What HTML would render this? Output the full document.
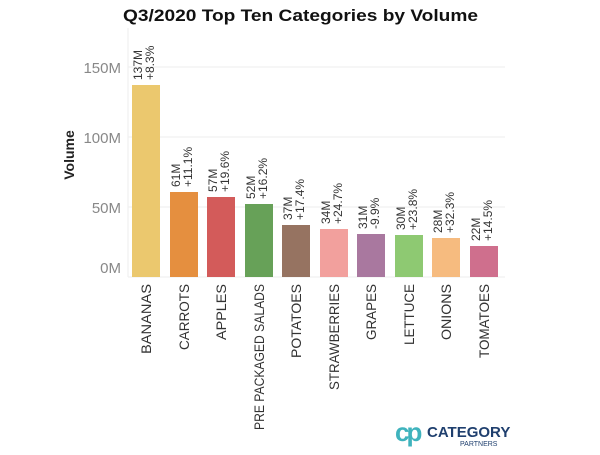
<!DOCTYPE html>
<html><head><style>body{margin:0;background:#fff}</style></head><body>
<svg width="600" height="450" xmlns="http://www.w3.org/2000/svg" font-family="Liberation Sans, sans-serif">
<text x="123" y="21" font-size="17" font-weight="bold" fill="#111" textLength="355" lengthAdjust="spacingAndGlyphs">Q3/2020 Top Ten Categories by Volume</text>
<g stroke="#eee" stroke-width="1">
<line x1="128" y1="67" x2="505" y2="67"/><line x1="128" y1="137" x2="505" y2="137"/><line x1="128" y1="207" x2="505" y2="207"/><line x1="128" y1="277" x2="505" y2="277"/>
<line x1="128" y1="28" x2="128" y2="277"/>
</g>
<g font-size="15" fill="#888" text-anchor="end">
<text x="121" y="73">150M</text><text x="121" y="143">100M</text><text x="121" y="213">50M</text><text x="121" y="273">0M</text>
</g>
<text transform="translate(74,155) rotate(-90)" text-anchor="middle" font-size="14" font-weight="bold" fill="#222">Volume</text>
<g>
<rect x="132" y="85" width="28" height="192" fill="#ebc86e"/>
<rect x="170" y="192" width="28" height="85" fill="#e58f3f"/>
<rect x="207" y="197" width="28" height="80" fill="#d35b5a"/>
<rect x="245" y="204" width="28" height="73" fill="#67a158"/>
<rect x="282" y="225" width="28" height="52" fill="#967361"/>
<rect x="320" y="229" width="28" height="48" fill="#f2a09d"/>
<rect x="357" y="234" width="28" height="43" fill="#a9789f"/>
<rect x="395" y="235" width="28" height="42" fill="#8ec972"/>
<rect x="432" y="238" width="28" height="39" fill="#f6bb7f"/>
<rect x="470" y="246" width="28" height="31" fill="#cf6f8d"/>
</g>
<g font-size="12" fill="#333">
<text transform="translate(142,80) rotate(-90)">137M</text><text transform="translate(154,80) rotate(-90)">+8.3%</text>
<text transform="translate(180,187) rotate(-90)">61M</text><text transform="translate(192,187) rotate(-90)">+11.1%</text>
<text transform="translate(217,192) rotate(-90)">57M</text><text transform="translate(229,192) rotate(-90)">+19.6%</text>
<text transform="translate(255,199) rotate(-90)">52M</text><text transform="translate(267,199) rotate(-90)">+16.2%</text>
<text transform="translate(292,220) rotate(-90)">37M</text><text transform="translate(304,220) rotate(-90)">+17.4%</text>
<text transform="translate(330,224) rotate(-90)">34M</text><text transform="translate(342,224) rotate(-90)">+24.7%</text>
<text transform="translate(367,229) rotate(-90)">31M</text><text transform="translate(379,229) rotate(-90)">-9.9%</text>
<text transform="translate(405,230) rotate(-90)">30M</text><text transform="translate(417,230) rotate(-90)">+23.8%</text>
<text transform="translate(442,233) rotate(-90)">28M</text><text transform="translate(454,233) rotate(-90)">+32.3%</text>
<text transform="translate(480,241) rotate(-90)">22M</text><text transform="translate(492,241) rotate(-90)">+14.5%</text>
</g>
<g font-size="14" fill="#333" text-anchor="end" lengthAdjust="spacingAndGlyphs">
<text transform="translate(151,284) rotate(-90)" textLength="70" lengthAdjust="spacingAndGlyphs">BANANAS</text>
<text transform="translate(189,284) rotate(-90)" textLength="66" lengthAdjust="spacingAndGlyphs">CARROTS</text>
<text transform="translate(226,284) rotate(-90)" textLength="56" lengthAdjust="spacingAndGlyphs">APPLES</text>
<text transform="translate(264,284) rotate(-90)" textLength="146" lengthAdjust="spacingAndGlyphs">PRE PACKAGED SALADS</text>
<text transform="translate(301,284) rotate(-90)" textLength="74" lengthAdjust="spacingAndGlyphs">POTATOES</text>
<text transform="translate(339,284) rotate(-90)" textLength="106" lengthAdjust="spacingAndGlyphs">STRAWBERRIES</text>
<text transform="translate(376,284) rotate(-90)" textLength="56" lengthAdjust="spacingAndGlyphs">GRAPES</text>
<text transform="translate(414,284) rotate(-90)" textLength="61" lengthAdjust="spacingAndGlyphs">LETTUCE</text>
<text transform="translate(451,284) rotate(-90)" textLength="56" lengthAdjust="spacingAndGlyphs">ONIONS</text>
<text transform="translate(489,284) rotate(-90)" textLength="74" lengthAdjust="spacingAndGlyphs">TOMATOES</text>
</g>
<text x="395" y="441" font-size="26" font-weight="bold" fill="#3fb3bd" letter-spacing="-3">cp</text>
<text x="427" y="437" font-size="15" font-weight="bold" fill="#1f3f6e">CATEGORY</text>
<text x="460" y="446" font-size="7" fill="#1f3f6e">PARTNERS</text>
</svg>
</body></html>
